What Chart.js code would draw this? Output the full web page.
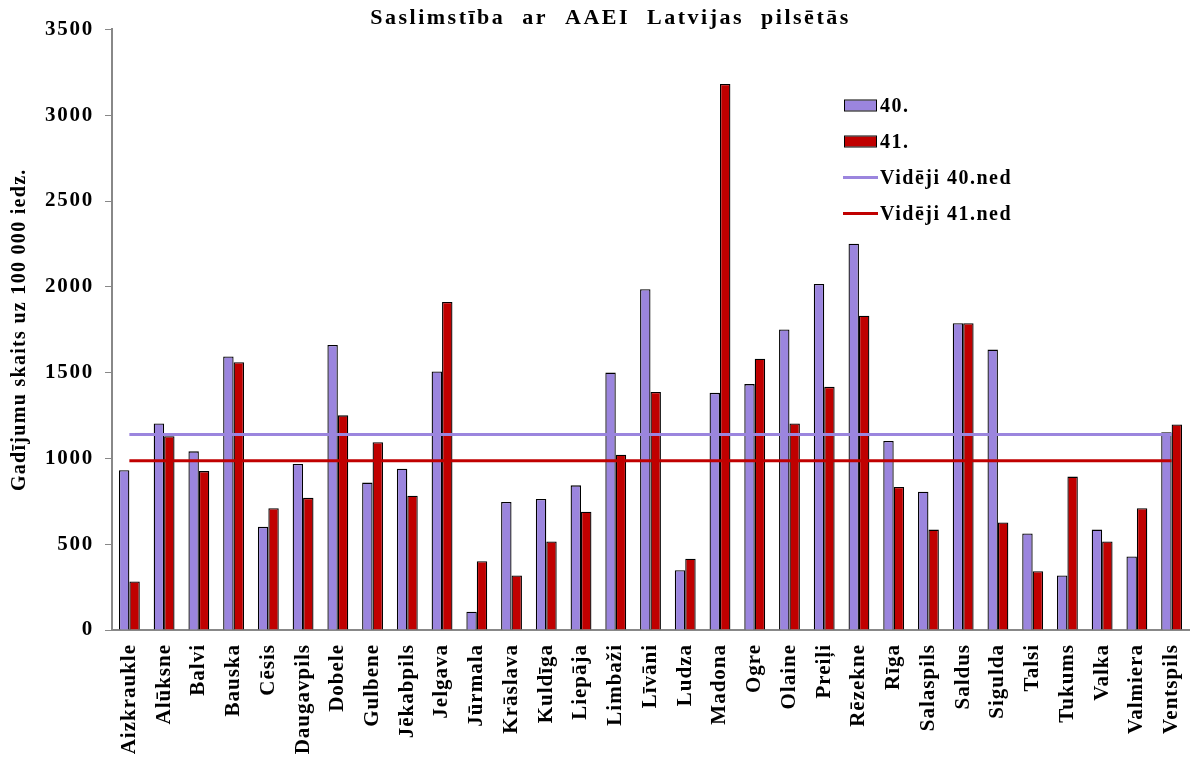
<!DOCTYPE html>
<html>
<head>
<meta charset="utf-8">
<script src="https://cdn.jsdelivr.net/npm/chart.js@4/dist/chart.umd.min.js"></script>
<style>
  html, body { margin: 0; padding: 0; background: #fff; }
  #wrap { width: 1192px; height: 765px; }
</style>
</head>
<body>
<div id="wrap"><canvas id="chart" width="1192" height="765"></canvas></div>
<script>
const cities = ['Aizkraukle', 'Alūksne', 'Balvi', 'Bauska', 'Cēsis', 'Daugavpils', 'Dobele', 'Gulbene',
  'Jēkabpils', 'Jelgava', 'Jūrmala', 'Krāslava', 'Kuldīga', 'Liepāja', 'Limbaži', 'Līvāni', 'Ludza',
  'Madona', 'Ogre', 'Olaine', 'Preiļi', 'Rēzekne', 'Rīga', 'Salaspils', 'Saldus', 'Sigulda', 'Talsi',
  'Tukums', 'Valka', 'Valmiera', 'Ventspils'];
const week40 = [931, 1203, 1041, 1594, 601, 968, 1661, 859, 940, 1507, 106, 746, 763, 843, 1500, 1986, 348,
  1382, 1433, 1751, 2016, 2251, 1101, 806, 1788, 1634, 562, 318, 585, 429, 1152];
const week41 = [283, 1129, 926, 1560, 710, 770, 1251, 1094, 783, 1912, 401, 318, 516, 689, 1021, 1387, 415,
  3182, 1581, 1203, 1417, 1832, 834, 585, 1788, 627, 343, 894, 516, 710, 1198];
const avg40 = 1140;
const avg41 = 987;
const yTicks = [0, 500, 1000, 1500, 2000, 2500, 3000, 3500];

const purple = '#9b85de';
const red = '#c00000';
const serif = 'Liberation Serif, Times New Roman, serif';

// the original text is drawn with extra letter spacing, so wrap the draw calls
function spaced(obj, name, ls, ws, dx, dy) {
  const fn = obj[name];
  obj[name] = function(...args) {
    const c = this.ctx;
    c.save();
    c.letterSpacing = ls;
    if (ws) c.wordSpacing = ws;
    if (dx || dy) c.translate(dx || 0, dy || 0);
    fn.apply(this, args);
    c.restore();
  };
}
const spacing = {
  id: 'spacing',
  afterLayout(chart) {
    if (chart._spaced) return;
    chart._spaced = true;
    spaced(chart.scales.x, 'drawLabels', '1px');
    spaced(chart.scales.y, 'drawLabels', '1.75px');
    spaced(chart.scales.y, 'drawTitle', '1.3px');
    // title sits a bit right of the canvas centre in the original
    spaced(chart.titleBlock, 'draw', '2.5px', '9px', 16, 3);
  }
};

// legend sits inside the plot, top right
const innerLegend = {
  id: 'innerLegend',
  afterDraw(chart) {
    const ctx = chart.ctx;
    const x = 844, y0 = 105.5, step = 36;
    ctx.save();
    ctx.letterSpacing = '1.5px';
    ctx.font = 'bold 20px ' + serif;
    ctx.textBaseline = 'middle';
    chart.data.datasets.forEach((ds, i) => {
      const y = y0 + i * step;
      if (ds.type === 'line') {
        ctx.strokeStyle = ds.borderColor;
        ctx.lineWidth = 3;
        ctx.beginPath();
        ctx.moveTo(x - 1, y);
        ctx.lineTo(x + 34, y);
        ctx.stroke();
      } else {
        ctx.fillStyle = ds.backgroundColor;
        ctx.fillRect(x, y - 5, 32, 10);
        ctx.strokeStyle = '#000';
        ctx.lineWidth = 1;
        ctx.strokeRect(x + 0.5, y - 5.5, 32, 11);
      }
      ctx.fillStyle = '#000';
      ctx.fillText(ds.label, x + 36, y + 1);
    });
    ctx.restore();
  }
};

const ctx = document.getElementById('chart');
const chart = new Chart(ctx, {
  data: {
    labels: cities,
    datasets: [
      {
        type: 'bar', label: '40.', data: week40,
        backgroundColor: purple, borderColor: '#000', borderWidth: 1.3,
        barPercentage: 1, categoryPercentage: 0.6, order: 2
      },
      {
        type: 'bar', label: '41.', data: week41,
        backgroundColor: red, borderColor: '#000', borderWidth: 1.3,
        barPercentage: 1, categoryPercentage: 0.6, order: 2
      },
      {
        type: 'line', label: 'Vidēji 40.ned',
        data: [{ x: cities[0], y: avg40 }, { x: cities[cities.length - 1], y: avg40 }],
        borderColor: purple, borderWidth: 3, pointRadius: 0, order: 1
      },
      {
        type: 'line', label: 'Vidēji 41.ned',
        data: [{ x: cities[0], y: avg41 }, { x: cities[cities.length - 1], y: avg41 }],
        borderColor: red, borderWidth: 3, pointRadius: 0, order: 1
      }
    ]
  },
  options: {
    responsive: false,
    animation: false,
    layout: { padding: { top: 0, right: 3, bottom: 0, left: 0 } },
    plugins: {
      legend: { display: false },
      tooltip: { enabled: false },
      title: {
        display: true,
        text: 'Saslimstība ar AAEI Latvijas pilsētās',
        color: '#000',
        font: { family: serif, size: 22, weight: 'bold' },
        padding: { top: 2, bottom: 1 }
      }
    },
    scales: {
      x: {
        offset: true,
        grid: { display: false, drawTicks: false },
        border: { color: '#888', width: 2 },
        ticks: {
          autoSkip: false, minRotation: 90, maxRotation: 90, padding: 14,
          color: '#000', font: { family: serif, size: 21, weight: 'bold' }
        },
        afterFit(scale) {
          scale.height = 135;
          scale.paddingLeft = 0;
          scale.paddingRight = 0;
        }
      },
      y: {
        min: 0, max: 3500,
        afterBuildTicks(scale) { scale.ticks = yTicks.map(v => ({ value: v })); },
        grid: { drawOnChartArea: false, drawTicks: true, tickLength: 7, color: '#888', lineWidth: 1 },
        border: { color: '#888', width: 2 },
        ticks: {
          padding: 11, color: '#000', font: { family: serif, size: 21, weight: 'bold' },
          callback: (v) => String(v)
        },
        title: {
          display: true, text: 'Gadījumu skaits uz 100 000 iedz.', color: '#000',
          font: { family: serif, size: 20, weight: 'bold' }, padding: { top: 8, bottom: 0 }
        },
        afterFit(scale) { scale.width = 112; }
      }
    }
  },
  plugins: [spacing, innerLegend]
});
</script>
</body>
</html>
